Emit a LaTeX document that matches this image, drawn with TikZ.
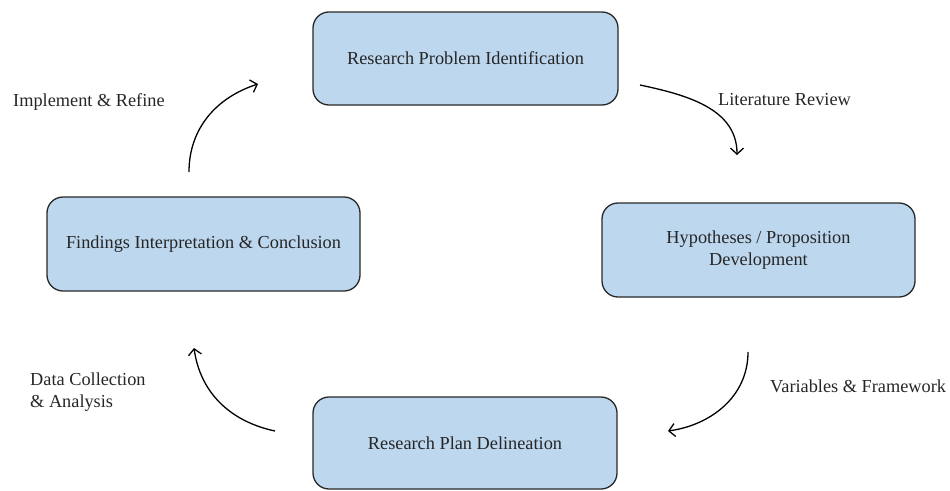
\documentclass[tikz,border=0pt]{standalone}
\usepackage{fontspec}
\setmainfont{Liberation Serif}
\usetikzlibrary{arrows.meta}
\definecolor{boxfill}{RGB}{189,215,238}
\definecolor{boxline}{RGB}{40,40,40}
\begin{document}
\begin{tikzpicture}[x=1pt,y=1pt,
  stagebox/.style={draw=boxline, fill=boxfill, line width=1.3pt, rounded corners=16pt},
  stagetext/.style={font=\fontsize{18.3}{22}\selectfont, align=center, text=black!85},
  steplabel/.style={font=\fontsize{18.3}{22}\selectfont, align=left, anchor=west, text=black!85, inner sep=0pt},
  cyclearrow/.style={line width=1.3pt, -{Straight Barb[length=6pt,width=13pt,line width=1.3pt]}}]
\useasboundingbox (0,0) rectangle (950,-490);

% stage boxes
\draw[stagebox] (313,-12) rectangle (618,-105);
\node[stagetext] (problem) at (465.5,-58.5) {Research Problem Identification};
\draw[stagebox] (602,-203) rectangle (915,-297);
\node[stagetext] (hypo) at (758.5,-250) {Hypotheses / Proposition\\Development};
\draw[stagebox] (313,-397) rectangle (617,-489);
\node[stagetext] (plan) at (465,-443) {Research Plan Delineation};
\draw[stagebox] (47,-197) rectangle (360,-291);
\node[stagetext] (findings) at (203.5,-244) {Findings Interpretation \& Conclusion};

% arrow end points
\coordinate (a1s) at (189,-172);
\coordinate (a1e) at (258,-84);
\coordinate (a2s) at (640,-85);
\coordinate (a2e) at (737,-155);
\coordinate (a3s) at (748,-352);
\coordinate (a3e) at (668,-431);
\coordinate (a4s) at (275,-431);
\coordinate (a4e) at (194,-348);

% cycle arrows
\draw[cyclearrow] (a1s) to[out=90, in=198] (a1e);
\draw[cyclearrow] (a2s) to[out=-12, in=90] (a2e);
\draw[cyclearrow] (a3s) to[out=-90, in=8] (a3e);
\draw[cyclearrow] (a4s) to[out=168, in=-82] (a4e);

% transition labels
\node[steplabel] (refine) at (13,-102) {Implement \& Refine};
\node[steplabel] (litrev) at (718,-100) {Literature Review};
\node[steplabel] (varfw) at (770,-386) {Variables \& Framework};
\node[steplabel] (datacoll) at (30,-392) {Data Collection\\\& Analysis};
\end{tikzpicture}
\end{document}
